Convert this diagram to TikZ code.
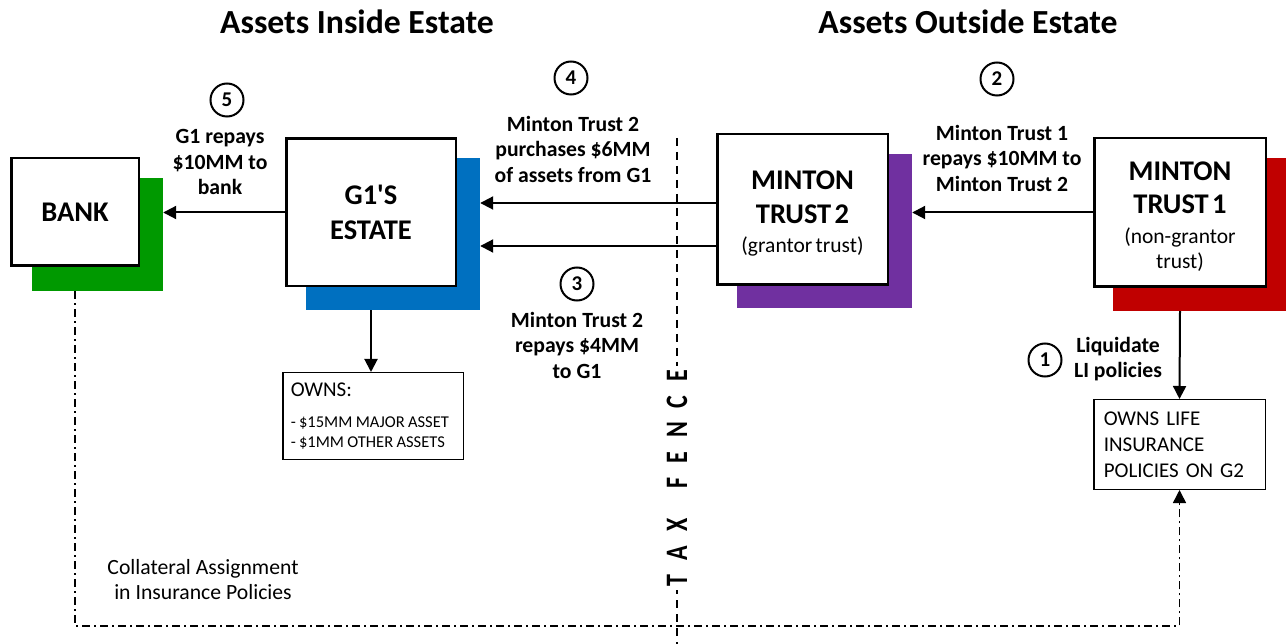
\documentclass[tikz,border=0pt]{standalone}
\usepackage{fontspec}
\setmainfont{Carlito}[Ligatures=TeXOff]
\usetikzlibrary{arrows.meta,calc}
\definecolor{cgreen}{RGB}{0,153,0}
\definecolor{cblue}{RGB}{0,112,192}
\definecolor{cpurple}{RGB}{112,48,160}
\definecolor{cred}{RGB}{192,0,0}
\newcommand{\titlefnt}{\fontsize{28.5}{33.5}\selectfont\bfseries}
\newcommand{\subfnt}{\fontsize{21.5}{25}\selectfont\mdseries}
\newcommand{\lblfnt}{\fontsize{21.7}{25.5}\selectfont\bfseries}
\newcommand{\headfnt}{\fontsize{33.7}{36}\selectfont\bfseries}
\tikzset{
  box/.style={draw=black, line width=2.5pt, fill=white, inner sep=0pt, align=center},
  shadebox/.style={draw=none, inner sep=0pt},
  arr/.style={line width=2pt, -{Triangle[length=13pt,width=13pt]}},
  num/.style={circle, draw=black, line width=2pt, minimum size=33pt, inner sep=0pt, font=\fontsize{21}{21}\selectfont\bfseries},
  lbl/.style={align=center, font=\lblfnt, inner sep=0pt},
  ownbox/.style={draw=black, line width=1.5pt, fill=white, inner sep=0pt, align=left},
  fence/.style={line width=2.5pt, dash pattern=on 8pt off 6pt},
  dd/.style={line width=1.5pt, dash pattern=on 8pt off 4pt on 2pt off 4pt},
  head/.style={font=\headfnt, inner sep=0pt},
}
\begin{document}
\begin{tikzpicture}[x=1pt,y=-1pt]
\useasboundingbox (0,0) rectangle (1286,644);

% headings
\node[head] (h1) at (357,22) {Assets Inside Estate};
\node[head] (h2) at (968,22) {Assets Outside Estate};

% tax fence line
\coordinate (ft) at (677,138);
\coordinate (fb) at (677,644);
\draw[fence] (ft) -- (fb);

% shadows
\node[shadebox, fill=cgreen, minimum width=131pt, minimum height=113pt] (bankS) at (97.5,234.5) {};
\node[shadebox, fill=cblue, minimum width=174pt, minimum height=152pt] (g1S) at (393,234) {};
\node[shadebox, fill=cpurple, minimum width=175pt, minimum height=154pt] (mt2S) at (824.5,231) {};
\node[shadebox, fill=cred, minimum width=174pt, minimum height=153pt] (mt1S) at (1200,234.5) {};

% main boxes
\node[box, minimum width=127.5pt, minimum height=107.5pt, font=\titlefnt] (bank) at (75,212) {BANK};
\node[box, minimum width=169.5pt, minimum height=147.5pt, font=\titlefnt] (g1) at (371,212.5) {G1'S\\[1pt]ESTATE};
\node[box, minimum width=170.5pt, minimum height=150.5pt, text width=164pt] (mt2) at (802.5,209.5)
  {\vskip -7pt{\titlefnt MINTON\\TRUST 2\par}\vskip 4pt{\subfnt (grantor trust)\par}};
\node[box, minimum width=171.5pt, minimum height=148.5pt, text width=164pt] (mt1) at (1180,212.5)
  {\vskip -7pt{\titlefnt MINTON\\TRUST 1\par}\vskip 5pt{\subfnt (non-grantor\\trust)\par}};

% owns boxes
\node[ownbox, minimum width=180.5pt, minimum height=86.5pt, text width=164.5pt] (owns) at (373,416)
  {{\fontsize{21}{24}\selectfont OWNS:\par}\vskip 11pt{\fontsize{16.5}{20}\selectfont \mbox{- \$15MM MAJOR ASSET}\\\mbox{- \$1MM OTHER ASSETS}\par}};
\node[ownbox, minimum width=171.5pt, minimum height=89.5pt, text width=151.5pt, font=\fontsize{21}{26}\selectfont] (ownsLI) at (1179.5,444.5)
  {OWNS LIFE\\INSURANCE\\POLICIES ON G2};

% arrows
\draw[arr] (g1.west) -- (g1.west -| bankS.east);
\draw[arr] ([yshift=6.5pt]mt2.west) -- ([yshift=6.5pt]mt2.west -| g1S.east);
\draw[arr] ([yshift=-36.5pt]mt2.west) -- ([yshift=-36.5pt]mt2.west -| g1S.east);
\draw[arr] (mt1.west) -- (mt1.west -| mt2S.east);
\draw[arr] (mt1S.south -| mt1.center) -- (ownsLI.north);
\draw[arr] (g1S.south -| g1.center) -- (owns.north -| g1.center);

% collateral dash-dot connector
\coordinate (cl) at (75,626);
\coordinate (cr) at (1179.5,626);
\draw[dd, -{Triangle[length=13pt,width=13pt]}] (bankS.south -| bank.center) -- (cl) -- (cr) -- (ownsLI.south);

% tax fence label
\node[fill=white, inner sep=4pt, rotate=90, font=\fontsize{24}{24}\selectfont\bfseries] (fencelbl) at (677,478)
  {\scalebox{1}[1.3]{T\hspace{14pt}A\hspace{14pt}X\hspace{30pt}F\hspace{14pt}E\hspace{14pt}N\hspace{14pt}C\hspace{14pt}E}};

% step numbers
\node[num] (n5) at (227,100) {5};
\node[num] (n4) at (571,78) {4};
\node[num] (n3) at (577,284) {3};
\node[num] (n2) at (997,79) {2};
\node[num] (n1) at (1045,360) {1};

% step labels
\node[lbl] (l5) at (220,162) {G1 repays\\\$10MM to\\bank};
\node[lbl] (l4) at (573,149) {Minton Trust 2\\purchases \$6MM\\of assets from G1};
\node[lbl] (l3) at (577,345) {Minton Trust 2\\repays \$4MM\\to G1};
\node[lbl] (l2) at (1002,158) {Minton Trust 1\\repays \$10MM to\\Minton Trust 2};
\node[lbl] (l1) at (1118,359) {Liquidate\\LI policies};

% collateral label
\node[align=center, inner sep=0pt, font=\fontsize{21.7}{25}\selectfont] (coll) at (203,580) {Collateral Assignment\\in Insurance Policies};
\end{tikzpicture}
\end{document}
